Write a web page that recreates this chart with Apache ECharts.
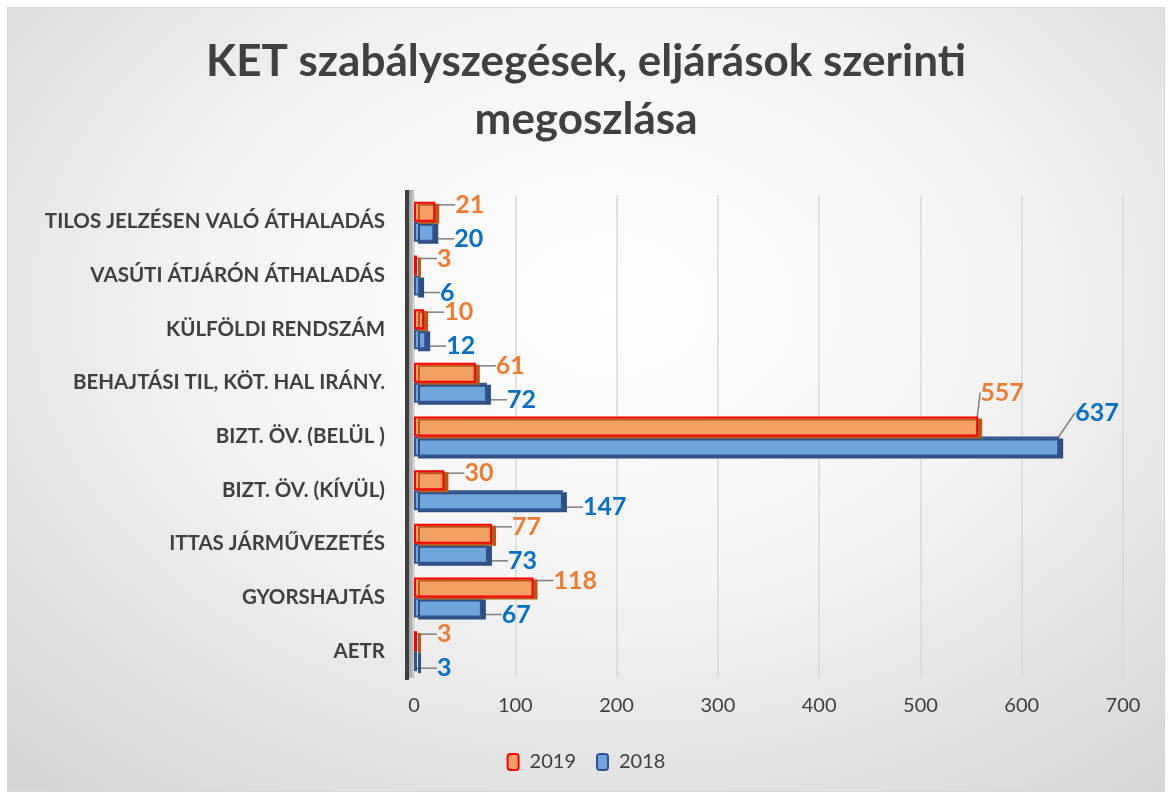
<!DOCTYPE html>
<html>
<head>
<meta charset="utf-8">
<script src="https://cdn.jsdelivr.net/npm/echarts@6/dist/echarts.min.js"></script>
<style>
html,body{margin:0;padding:0;background:#fff;}
#main{position:absolute;left:7px;top:7px;width:1156px;height:783px;border:1px solid #d9d9d9;
  background:radial-gradient(ellipse 75% 80% at 52% 38%, #ffffff 0%, #f4f4f4 45%, #d6d6d6 100%);}
</style>
</head>
<body>
<div id="main"></div>
<script>
// kategóriák (fentről lefelé)
var categories = ['TILOS JELZÉSEN VALÓ ÁTHALADÁS', 'VASÚTI ÁTJÁRÓN ÁTHALADÁS', 'KÜLFÖLDI RENDSZÁM',
  'BEHAJTÁSI TIL, KÖT. HAL IRÁNY.', 'BIZT. ÖV. (BELÜL )', 'BIZT. ÖV. (KÍVÜL)', 'ITTAS JÁRMŰVEZETÉS',
  'GYORSHAJTÁS', 'AETR'];
var data2019 = [21, 3, 10, 61, 557, 30, 77, 118, 3];
var data2018 = [20, 6, 12, 72, 637, 147, 73, 67, 3];
var xTicks = [0, 100, 200, 300, 400, 500, 600, 700];

var font = 'Lato, "Open Sans", sans-serif';
var myChart = echarts.init(document.getElementById('main'));

// címkék eltolása, a nagy oszlopnál feljebb vonallal
function labelMove(up){
  return function(p){
    if (p.dataIndex === 4) return {dx: up ? -18 : -4, dy: -34};
    return {dx: 0, dy: up ? -7 : 7};
  };
}

var option = {
  backgroundColor: 'transparent',
  textStyle: {fontFamily: font},
  title: {
    text: 'KET szabályszegések, eljárások szerinti\nmegoszlása',
    left: 'center',
    top: 20,
    textStyle: {fontFamily: font, fontSize: 44, fontWeight: 'bold', color: '#404040', lineHeight: 58}
  },
  legend: {
    bottom: 14,
    left: 'center',
    itemWidth: 11,
    itemHeight: 16,
    itemGap: 20,
    textStyle: {fontFamily: font, fontSize: 20, color: '#404040', padding: [0, 0, 0, 6]},
    data: ['2019', '2018']
  },
  graphic: [
    {type: 'rect', z: -10, shape: {x: 400, y: 182, width: 6, height: 488},
      style: {fill: new echarts.graphic.LinearGradient(0, 0, 1, 0, [
        {offset: 0, color: '#9a9a9a'}, {offset: 1, color: '#c8c8c8'}])}},
    {type: 'rect', z: -10, shape: {x: 397, y: 182, width: 4, height: 490}, style: {fill: '#3f3f3f'}}
  ],
  grid: {left: 406, right: 41, top: 187, bottom: 113},
  xAxis: {
    type: 'value',
    min: 0,
    max: 700,
    interval: 100,
    axisLine: {show: false},
    axisTick: {show: false},
    axisLabel: {
      color: '#404040', fontFamily: font, fontSize: 20, margin: 18,
      formatter: function(v){ return xTicks.indexOf(v) >= 0 ? String(v) : ''; }
    },
    splitLine: {lineStyle: {color: '#d9d9d9', width: 1.5}}
  },
  yAxis: {
    type: 'category',
    inverse: true,
    data: categories,
    axisTick: {show: false},
    axisLine: {show: false},
    axisLabel: {color: '#404040', fontFamily: font, fontSize: 20.5, fontWeight: 'bold', margin: 29}
  },
  series: [
    {
      name: '2019',
      type: 'bar',
      data: data2019,
      barWidth: 20,
      barGap: '0%',
      z: 3,
      itemStyle: {
        color: '#f4a062',
        borderColor: '#ff0000',
        borderWidth: 2,
        shadowColor: '#b65a1c',
        shadowOffsetX: 4,
        shadowOffsetY: 2,
        shadowBlur: 0
      },
      label: {
        show: true,
        position: 'right',
        distance: 20,
        color: '#ed7d31',
        fontFamily: font,
        fontSize: 25,
        fontWeight: 'bold'
      },
      labelLayout: labelMove(true),
      labelLine: {show: true, lineStyle: {color: '#7f7f7f', width: 1.5}}
    },
    {
      name: '2018',
      type: 'bar',
      data: data2018,
      barWidth: 20,
      z: 2,
      itemStyle: {
        color: '#6fa5dc',
        borderColor: '#2f5597',
        borderWidth: 2,
        shadowColor: '#2f4f7f',
        shadowOffsetX: 4,
        shadowOffsetY: 2,
        shadowBlur: 0
      },
      label: {
        show: true,
        position: 'right',
        distance: 20,
        color: '#0070c0',
        fontFamily: font,
        fontSize: 25,
        fontWeight: 'bold'
      },
      labelLayout: labelMove(false),
      labelLine: {show: true, lineStyle: {color: '#7f7f7f', width: 1.5}}
    }
  ]
};
myChart.setOption(option);
window.addEventListener('resize', function(){ myChart.resize(); });
</script>
</body>
</html>
